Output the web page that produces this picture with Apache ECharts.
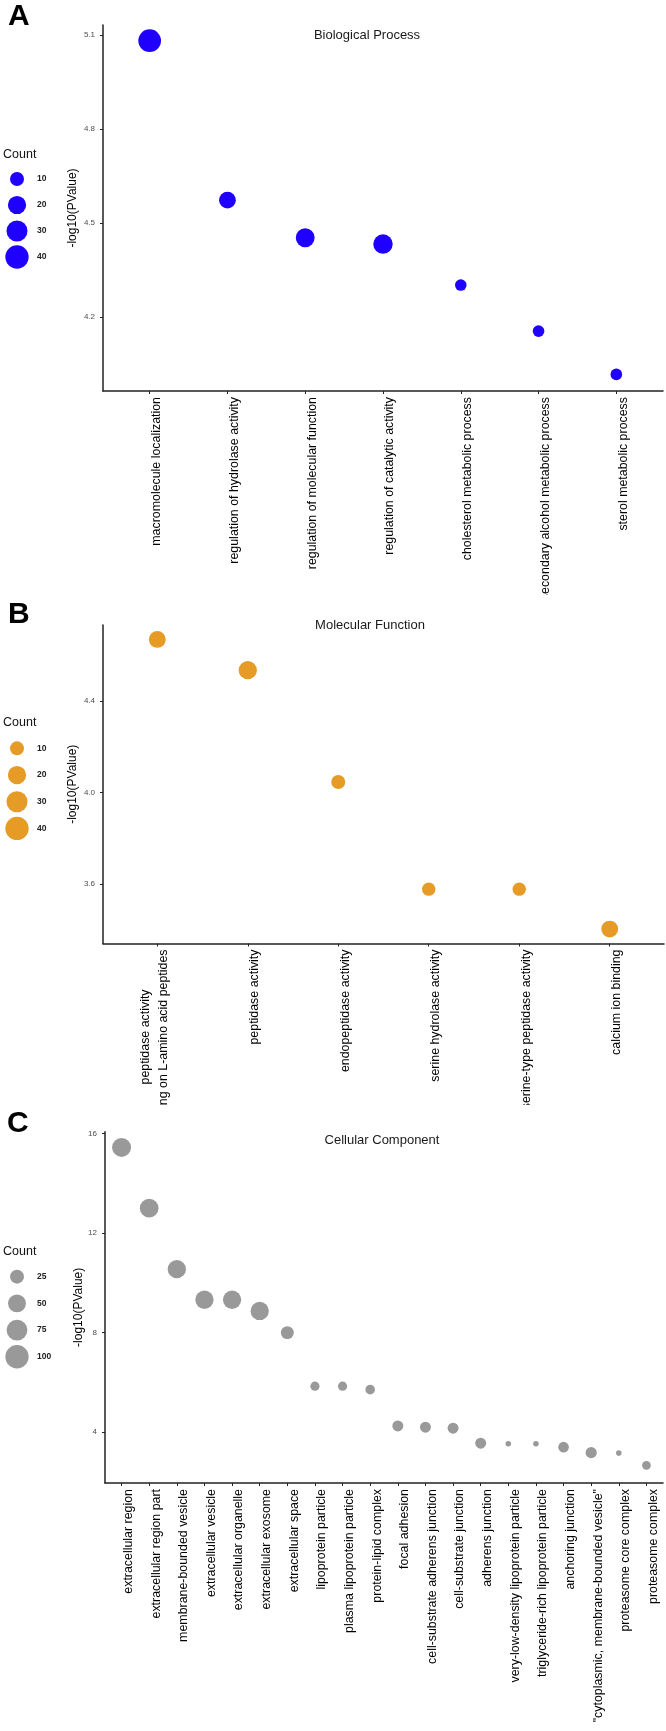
<!DOCTYPE html>
<html><head><meta charset="utf-8">
<script src="https://cdn.jsdelivr.net/npm/echarts@6/dist/echarts.min.js"></script>
<style>
html,body{margin:0;padding:0;background:#fff;}
#wrap{position:relative;width:666px;height:1731px;overflow:hidden;background:#fff;}
.panel{position:absolute;left:0;width:666px;}
</style></head><body>
<div id="wrap">
<div id="pA" class="panel" style="top:0;height:595px"></div>
<div id="pB" class="panel" style="top:595px;height:510px"></div>
<div id="pC" class="panel" style="top:1105px;height:626px"></div>
</div>
<script>
// ---------------- DATA ----------------
const catsA = ['macromolecule localization','regulation of hydrolase activity','regulation of molecular function','regulation of catalytic activity','cholesterol metabolic process','secondary alcohol metabolic process','sterol metabolic process'];
const pvalA = [5.082, 4.573, 4.453, 4.433, 4.302, 4.155, 4.017];
const countA = [37, 16, 22, 24, 7, 7, 7];
const yTicksA = [4.2, 4.5, 4.8, 5.1];
const yRangeA = [3.964, 5.132];
const breaksA = [10, 20, 30, 40];

const catsB = ['peptidase activity\nacting on L-amino acid peptides','peptidase activity','endopeptidase activity','serine hydrolase activity','serine-type peptidase activity','calcium ion binding'];
const pvalB = [4.668, 4.534, 4.046, 3.578, 3.578, 3.404];
const countB = [16, 20, 10, 9, 9, 16];
const yTicksB = [3.6, 4.0, 4.4];
const yRangeB = [3.341, 4.731];
const breaksB = [10, 20, 30, 40];

const catsC = ['extracellular region','extracellular region part','membrane-bounded vesicle','extracellular vesicle','extracellular organelle','extracellular exosome','extracellular space','lipoprotein particle','plasma lipoprotein particle','protein-lipid complex','focal adhesion','cell-substrate adherens junction','cell-substrate junction','adherens junction','very-low-density lipoprotein particle','triglyceride-rich lipoprotein particle','anchoring junction','"cytoplasmic, membrane-bounded vesicle"','proteasome core complex','proteasome complex'];
const pvalC = [15.44, 13.0, 10.55, 9.32, 9.32, 8.87, 8.0, 5.85, 5.85, 5.71, 4.25, 4.2, 4.16, 3.56, 3.54, 3.54, 3.40, 3.18, 3.16, 2.67];
const countC = [59, 56, 53, 53, 53, 53, 20, 7, 7, 8, 12, 12, 12, 12, 3, 3, 11, 13, 3, 6];
const yTicksC = [4, 8, 12, 16];
const yRangeC = [1.96, 16.07];
const breaksC = [25, 50, 75, 100];

// ---------------- STYLE / LAYOUT ----------------
const FONT = '"Liberation Sans", Arial, Helvetica, sans-serif';
const sizeAB = c => 9.14 + 2.43 * Math.sqrt(Math.max(0, c - 6));
const sizeC = c => 5.55 + 1.8 * Math.sqrt(Math.max(0, c - 3));

function labelFmt(name) {
  if (name.indexOf('\n') >= 0) {
    const parts = name.split('\n');
    return parts.map(p => '{m|' + p + '}').join('\n') + '\n{q| }';
  }
  return '{p| }\n{t|' + name + '}';
}

function buildPanel(elId, cfg) {
  const chart = echarts.init(document.getElementById(elId), null, {renderer: 'canvas'});
  const idx = cfg.cats.map((c, i) => i);
  const axisColor = '#222';
  const option = {
    animation: false,
    textStyle: {fontFamily: FONT},
    grid: [
      {left: cfg.grid.left, top: cfg.grid.top, width: cfg.grid.width, height: cfg.grid.height, containLabel: false, outerBoundsMode: 'none'},
      {left: 0, top: cfg.leg.top, width: 34, height: cfg.leg.step * 4, containLabel: false, outerBoundsMode: 'none'}
    ],
    xAxis: [
      {
        type: 'value', gridIndex: 0, min: -0.6, max: cfg.cats.length - 0.4,
        axisLine: {show: true, onZero: false, lineStyle: {color: axisColor, width: 1.5}},
        axisTick: {show: true, length: 3, customValues: idx, lineStyle: {color: axisColor, width: 1}},
        axisLabel: {
          show: true, customValues: idx, rotate: 90, margin: 6,
          fontFamily: FONT, fontSize: 12.4, color: '#000',
          formatter: v => labelFmt(cfg.cats[Math.round(v)]),
          rich: {
            p: {fontSize: 12.4, lineHeight: 14, fontFamily: FONT},
            t: {fontSize: 12.4, lineHeight: 14, color: '#000', fontFamily: FONT},
            m: {fontSize: 12.4, lineHeight: 18, color: '#000', align: 'center', fontFamily: FONT},
            q: {fontSize: 4, lineHeight: 6, fontFamily: FONT}
          }
        },
        splitLine: {show: false}
      },
      {type: 'value', gridIndex: 1, min: -1, max: 1, show: false}
    ],
    yAxis: [
      {
        type: 'value', gridIndex: 0, min: cfg.yRange[0], max: cfg.yRange[1],
        axisLine: {show: true, onZero: false, lineStyle: {color: axisColor, width: 1.5}},
        axisTick: {show: true, length: 3, customValues: cfg.yTicks, lineStyle: {color: axisColor, width: 1}},
        axisLabel: {show: true, customValues: cfg.yTicks, fontSize: 8, color: '#4d4d4d', margin: 8, fontFamily: FONT, formatter: cfg.yFmt},
        splitLine: {show: false},
        name: '-log10(PValue)', nameLocation: 'middle', nameRotate: 90, nameGap: cfg.nameGap,
        nameMoveOverlap: false,
        nameTextStyle: {fontSize: 12, color: '#000', fontFamily: FONT}
      },
      {type: 'value', gridIndex: 1, min: -0.5, max: 3.5, inverse: true, show: false}
    ],
    graphic: [
      {type: 'text', left: cfg.letterPos[0], top: cfg.letterPos[1], style: {text: cfg.letter, font: 'bold 30px ' + FONT, fill: '#000'}},
      {type: 'text', x: cfg.titlePos[0], y: cfg.titlePos[1], style: {text: cfg.title, font: '13px ' + FONT, fill: '#1a1a1a', textAlign: 'center', textVerticalAlign: 'middle'}},
      {type: 'text', x: 3, y: cfg.leg.titleY, style: {text: 'Count', font: '12.5px ' + FONT, fill: '#111', textAlign: 'left', textVerticalAlign: 'middle'}}
    ],
    series: [
      {
        type: 'scatter', xAxisIndex: 0, yAxisIndex: 0, silent: true,
        data: cfg.cats.map((c, i) => [i, cfg.vals[i], cfg.counts[i]]),
        symbol: 'circle',
        symbolSize: v => cfg.sizeFn(v[2]),
        itemStyle: {color: cfg.color, opacity: 1},
        emphasis: {disabled: true}
      },
      {
        type: 'scatter', xAxisIndex: 1, yAxisIndex: 1, silent: true,
        data: cfg.breaks.map((b, i) => [0, i, b]),
        symbol: 'circle',
        symbolSize: v => cfg.sizeFn(v[2]),
        itemStyle: {color: cfg.color, opacity: 1},
        label: {show: true, position: 'inside', offset: [20, 0], align: 'left', formatter: p => String(p.data[2]), fontSize: 8.5, fontWeight: 'bold', color: '#222', fontFamily: FONT},
        emphasis: {disabled: true}
      }
    ]
  };
  chart.setOption(option);
}

buildPanel('pA', {
  cats: catsA, vals: pvalA, counts: countA, yTicks: yTicksA, yRange: yRangeA, breaks: breaksA,
  yFmt: v => v.toFixed(1), sizeFn: sizeAB, color: '#1f00ff',
  grid: {left: 103, top: 25, width: 560, height: 366},
  leg: {top: 166, step: 26, titleY: 155},
  letter: 'A', letterPos: [8, 2], title: 'Biological Process', titlePos: [367, 35], nameGap: 24
});
buildPanel('pB', {
  cats: catsB, vals: pvalB, counts: countB, yTicks: yTicksB, yRange: yRangeB, breaks: breaksB,
  yFmt: v => v.toFixed(1), sizeFn: sizeAB, color: '#e59b26',
  grid: {left: 103, top: 30, width: 561, height: 318.5},
  leg: {top: 140, step: 26.7, titleY: 128},
  letter: 'B', letterPos: [8, 5], title: 'Molecular Function', titlePos: [370, 30], nameGap: 24
});
buildPanel('pC', {
  cats: catsC, vals: pvalC, counts: countC, yTicks: yTicksC, yRange: yRangeC, breaks: breaksC,
  yFmt: v => String(Math.round(v)), sizeFn: sizeC, color: '#999999',
  grid: {left: 105, top: 26.7, width: 558, height: 351.3},
  leg: {top: 158.3, step: 26.7, titleY: 146.7},
  letter: 'C', letterPos: [7, 4], title: 'Cellular Component', titlePos: [382, 35], nameGap: 20
});
</script>
</body></html>
